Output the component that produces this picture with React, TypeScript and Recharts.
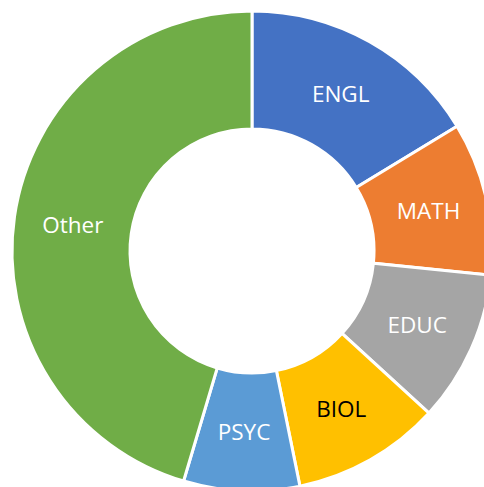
import React from 'react';
import { PieChart, Pie, Cell } from 'recharts';

const subjects = ['ENGL', 'MATH', 'EDUC', 'BIOL', 'PSYC', 'Other'];
const shares = [16.3, 10.3, 10.2, 10.0, 7.8, 45.4];
const colors = ['#4472C4', '#ED7D31', '#A5A5A5', '#FFC000', '#5B9BD5', '#70AD47'];
const labelColors = ['#FFFFFF', '#FFFFFF', '#FFFFFF', '#000000', '#FFFFFF', '#FFFFFF'];

const data = subjects.map((name, i) => ({ name, value: shares[i] }));

const RADIAN = Math.PI / 180;

const renderLabel = (props: any) => {
    const { cx, cy, midAngle, innerRadius, outerRadius, index } = props;
    const r = (innerRadius + outerRadius) / 2;
    const x = cx + r * Math.cos(-midAngle * RADIAN);
    const y = cy + r * Math.sin(-midAngle * RADIAN);
    return (
        <text
            x={x}
            y={y}
            fill={labelColors[index]}
            textAnchor="middle"
            dominantBaseline="central"
            fontSize={22.5}
            fontFamily="'Open Sans', sans-serif"
        >
            {subjects[index]}
        </text>
    );
};

export default function App() {
    return (
        <div style={{ position: 'absolute', left: 0, top: 0, width: 484, height: 487, background: '#fff' }}>
            <PieChart width={484} height={487} margin={{ top: 0, right: 0, bottom: 0, left: 0 }}>
                <Pie
                    data={data}
                    dataKey="value"
                    nameKey="name"
                    cx={252}
                    cy={251}
                    innerRadius={122}
                    outerRadius={240}
                    startAngle={90}
                    endAngle={-270}
                    stroke="#FFFFFF"
                    strokeWidth={3}
                    label={renderLabel}
                    labelLine={false}
                    isAnimationActive={false}
                >
                    {data.map((d, i) => (
                        <Cell key={d.name} fill={colors[i]} />
                    ))}
                </Pie>
            </PieChart>
        </div>
    );
}
